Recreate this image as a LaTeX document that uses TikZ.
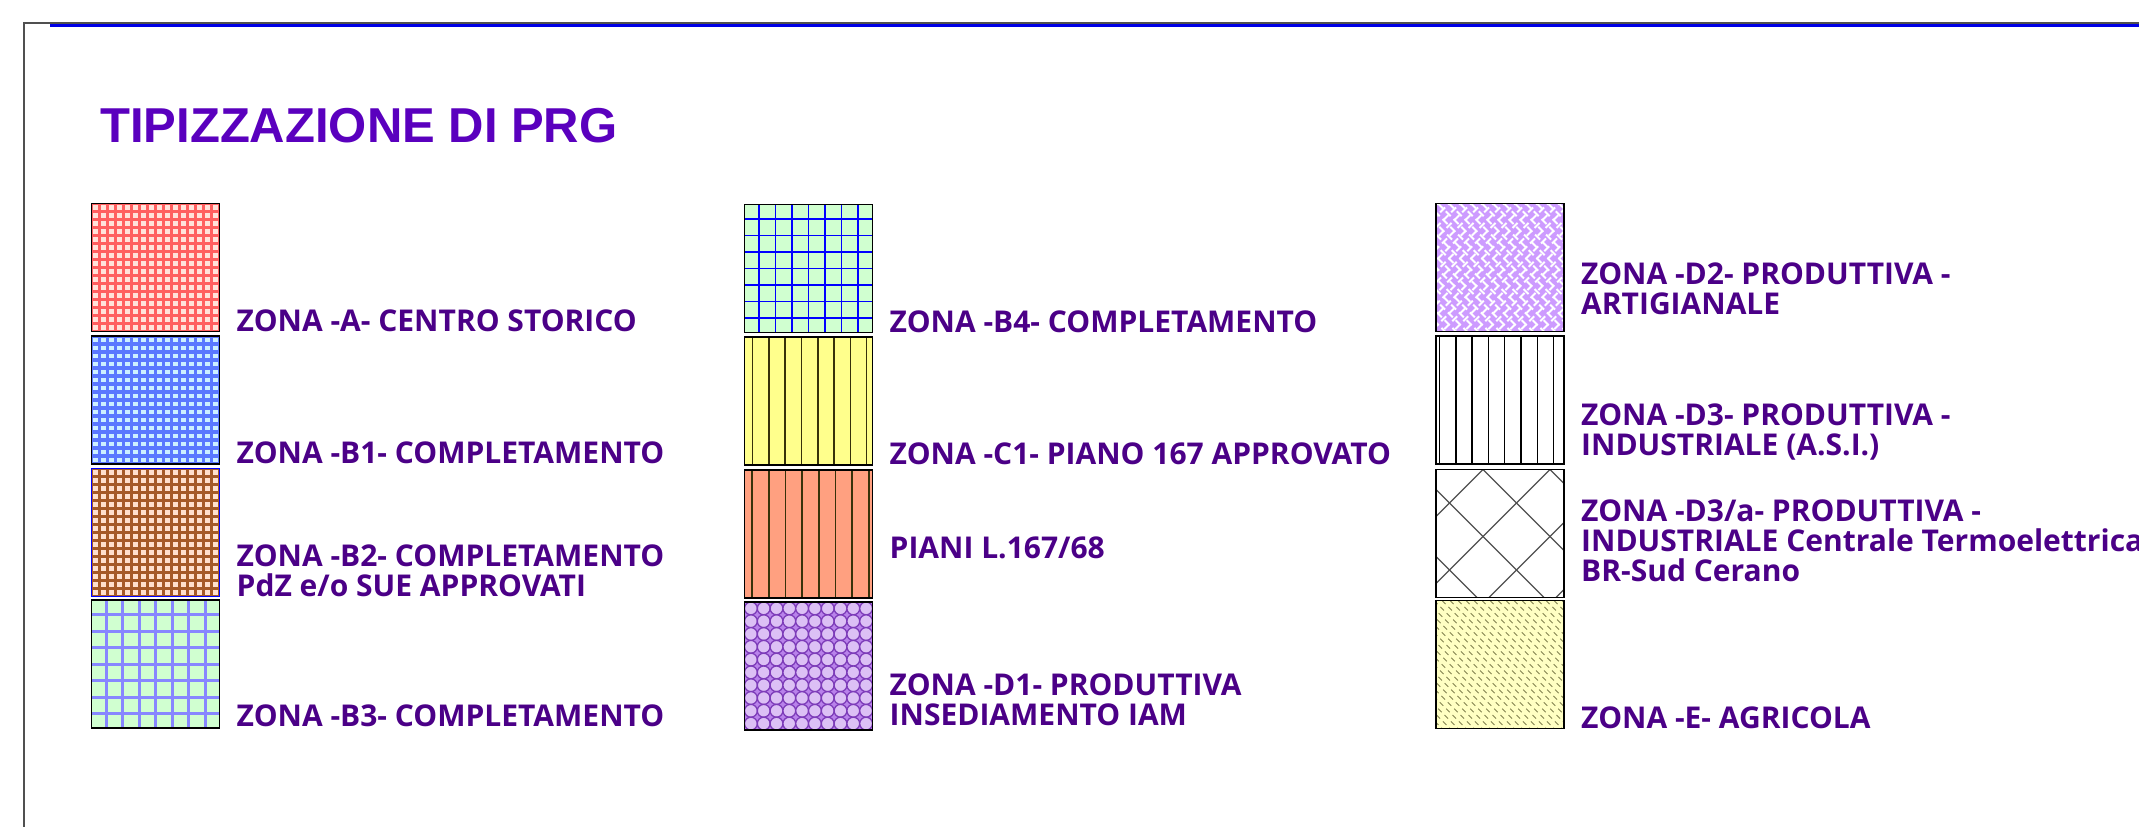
\documentclass[tikz,border=0pt]{standalone}
\usepackage{fontspec}
\setmainfont{Open Sans}
\newfontfamily\titlefont{Liberation Sans}
\usetikzlibrary{calc}

\definecolor{zonetext}{RGB}{75,0,135}
\definecolor{titleviolet}{RGB}{90,0,190}
\definecolor{framegray}{RGB}{80,80,80}
\definecolor{frameblue}{RGB}{0,0,230}
\definecolor{pinkbg}{RGB}{255,226,218}
\definecolor{redline}{RGB}{255,95,95}
\definecolor{cyanbg}{RGB}{205,240,255}
\definecolor{blueline}{RGB}{90,120,255}
\definecolor{peachbg}{RGB}{255,224,205}
\definecolor{brownline}{RGB}{165,90,40}
\definecolor{greenbg}{RGB}{208,255,208}
\definecolor{lilacline}{RGB}{135,135,255}
\definecolor{yellowbg}{RGB}{255,255,140}
\definecolor{salmonbg}{RGB}{255,160,128}
\definecolor{darkline}{RGB}{55,50,10}
\definecolor{purplebg}{RGB}{185,130,235}
\definecolor{purpleline}{RGB}{125,60,185}
\definecolor{lavenderbg}{RGB}{205,155,255}
\definecolor{paleyellow}{RGB}{255,255,195}
\definecolor{hatchgreen}{RGB}{130,130,80}

\tikzset{
  zonebox/.style={draw=black, line width=1.4pt, minimum width=128pt,
    minimum height=128pt, inner sep=0pt, outer sep=0pt},
  zonelabel/.style={anchor=south west, inner sep=0pt, text depth=0pt,
    align=left, text=zonetext, font=\bfseries\fontsize{30}{30}\selectfont},
  finegrid/.style={line width=3.4pt, step=8pt},
  widegrid/.style={step=16.5pt},
}

\begin{document}
\begin{tikzpicture}[x=1pt,y=-1pt]
  \useasboundingbox (0,0) rectangle (2139,827);
  % frame
  \draw[framegray, line width=2pt] (24,827) -- (24,23) -- (2139,23);
  \draw[frameblue, line width=3.5pt] (50,25.5) -- (2139,25.5);

  \node[anchor=base west, inner sep=0pt, text=titleviolet,
    font=\titlefont\bfseries\fontsize{49}{56}\selectfont] (title) at (100,142) {TIPIZZAZIONE DI PRG};

  % first column
  \node[zonebox, fill=pinkbg, path picture={
      \draw[redline, finegrid] (path picture bounding box.south west) grid (path picture bounding box.north east);
    }] (zA) at (155.5,267.5) {};
  \node[zonebox, fill=cyanbg, path picture={
      \draw[blueline, finegrid] (path picture bounding box.south west) grid (path picture bounding box.north east);
    }] (zB1) at (155.5,400) {};
  \node[zonebox, draw=blue, fill=peachbg, path picture={
      \draw[brownline, finegrid] (path picture bounding box.south west) grid (path picture bounding box.north east);
    }] (zB2) at (155.5,532.5) {};
  \node[zonebox, fill=greenbg, path picture={
      \draw[lilacline, widegrid, line width=3pt] (path picture bounding box.south west) grid (path picture bounding box.north east);
    }] (zB3) at (155.5,664) {};

  \node[zonelabel] (lA) at ($(zA.south east)+(17,0)$) {ZONA -A- CENTRO STORICO};
  \node[zonelabel] (lB1) at ($(zB1.south east)+(17,0)$) {ZONA -B1- COMPLETAMENTO};
  \node[zonelabel] (lB2) at ($(zB2.south east)+(17,0)$) {ZONA -B2- COMPLETAMENTO\\PdZ e/o SUE APPROVATI};
  \node[zonelabel] (lB3) at ($(zB3.south east)+(17,-1)$) {ZONA -B3- COMPLETAMENTO};

  % second column
  \node[zonebox, fill=greenbg, path picture={
      \draw[blue, widegrid, line width=1.8pt] (path picture bounding box.south west) grid (path picture bounding box.north east);
    }] (zB4) at (808.5,268.5) {};
  \node[zonebox, fill=yellowbg, path picture={
      \coordinate (pp) at (path picture bounding box.north west);
      \foreach \i in {8,24.3,...,130}
        \draw[darkline, line width=1.6pt] ($(pp)+(\i,0)$) -- ++(0,130);
    }] (zC1) at (808.5,401) {};
  \node[zonebox, fill=salmonbg, path picture={
      \coordinate (pp) at (path picture bounding box.north west);
      \foreach \i in {7.5,24.2,...,130}
        \draw[darkline, line width=1.8pt] ($(pp)+(\i,0)$) -- ++(0,130);
    }] (zPL) at (808.5,534) {};
  \node[zonebox, fill=purplebg, path picture={
      \coordinate (pp) at (path picture bounding box.north west);
      \foreach \i in {0,...,9}
        \foreach \j in {0,...,9}
          \draw[purpleline, fill=white!50!purplebg, line width=1.3pt] ($(pp)+({6.4+12.8*\i},{6.4+12.8*\j})$) circle[radius=6.4];
    }] (zD1) at (808.5,666) {};

  \node[zonelabel] (lB4) at ($(zB4.south east)+(17,0)$) {ZONA -B4- COMPLETAMENTO};
  \node[zonelabel] (lC1) at ($(zC1.south east)+(17,0)$) {ZONA -C1- PIANO 167 APPROVATO};
  \node[zonelabel] (lPL) at ($(zPL.south east)+(17,-39)$) {PIANI L.167/68};
  \node[zonelabel] (lD1) at ($(zD1.south east)+(17,-4)$) {ZONA -D1- PRODUTTIVA\\INSEDIAMENTO IAM};

  % third column
  \node[zonebox, fill=lavenderbg, path picture={
      \coordinate (pp) at (path picture bounding box.north west);
      \foreach \c in {-130,-119,...,260} {
        \draw[white, line width=2pt, dash pattern=on 7pt off 4pt] ($(pp)+(\c,0)$) -- ++(130,130);
        \draw[white, line width=2pt, dash pattern=on 7pt off 4pt, dash phase=5.5pt] ($(pp)+(\c,0)$) -- ++(-130,130);
      }
    }] (zD2) at (1500,267.5) {};
  \node[zonebox, fill=white, path picture={
      \coordinate (pp) at (path picture bounding box.north west);
      \foreach \i in {3.5,19.8,...,130}
        \draw[black, line width=1.5pt] ($(pp)+(\i,0)$) -- ++(0,130);
    }] (zD3) at (1500,400) {};
  \node[zonebox, fill=white, path picture={
      \coordinate (pp) at (path picture bounding box.north west);
      \foreach \c in {-154,-87,...,260} {
        \draw[framegray, line width=1.3pt] ($(pp)+(\c,0)$) -- ++(-135,135);
        \draw[framegray, line width=1.3pt] ($(pp)+(\c,0)$) -- ++(135,135);
      }
    }] (zD3a) at (1500,533.5) {};
  \node[zonebox, fill=paleyellow, path picture={
      \coordinate (pp) at (path picture bounding box.north west);
      \foreach \c in {-130,-122,...,130}
        \draw[hatchgreen, line width=1pt, dash pattern=on 5pt off 4pt] ($(pp)+(\c,0)$) -- ++(130,130);
    }] (zE) at (1500,664.5) {};

  \node[zonelabel] (lD2) at ($(zD2.south east)+(17,-17)$) {ZONA -D2- PRODUTTIVA -\\ARTIGIANALE};
  \node[zonelabel] (lD3) at ($(zD3.south east)+(17,-8)$) {ZONA -D3- PRODUTTIVA -\\INDUSTRIALE (A.S.I.)};
  \node[zonelabel] (lD3a) at ($(zD3a.south east)+(17,-16)$) {ZONA -D3/a- PRODUTTIVA -\\INDUSTRIALE Centrale Termoelettrica\\BR-Sud Cerano};
  \node[zonelabel] (lE) at ($(zE.south east)+(17,0)$) {ZONA -E- AGRICOLA};
\end{tikzpicture}
\end{document}
